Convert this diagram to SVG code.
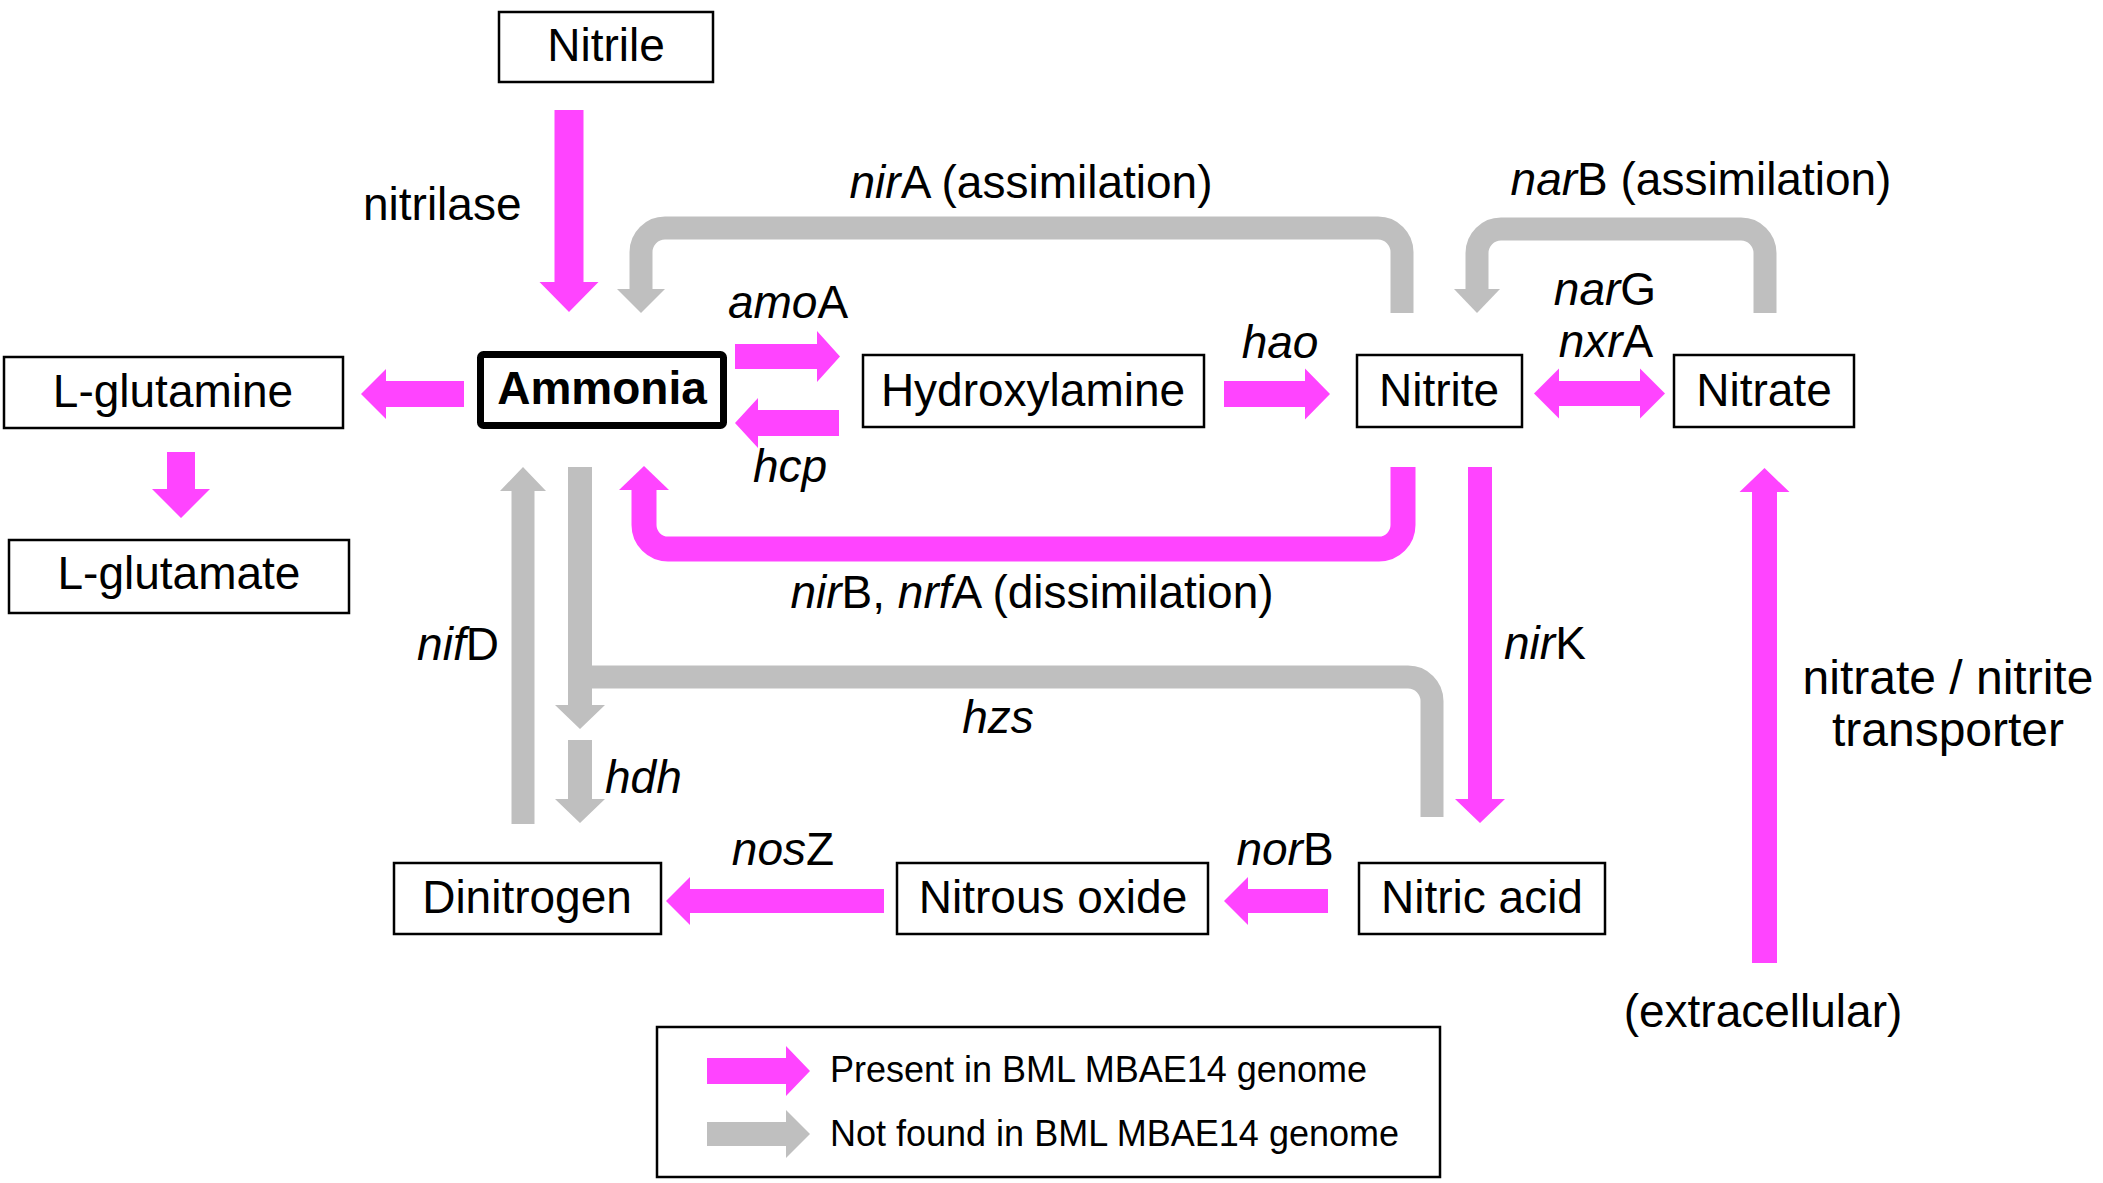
<svg xmlns="http://www.w3.org/2000/svg" width="2103" height="1183" viewBox="0 0 2103 1183">
<style>
text{font-family:"Liberation Sans",Arial,sans-serif;font-size:46px;fill:#000}
.box{fill:#fff;stroke:#000;stroke-width:2.5}
.bold{fill:#fff;stroke:#000;stroke-width:7}
.m{fill:#FF44FF}
.g{fill:#BFBFBF}
.ms{fill:none;stroke:#FF44FF;stroke-width:25}
.gs{fill:none;stroke:#BFBFBF;stroke-width:23}
.i{font-style:italic}
.c{text-anchor:middle}
.leg{font-size:36px}
.tr{font-size:48px}
</style>
<rect width="2103" height="1183" fill="#fff"/>

<g id="connectors">
  <!-- nitrilase -->
  <polygon class="m" points="554.5,110 583.5,110 583.5,282 598.5,282 569,312 539.5,282 554.5,282"/>
  <!-- Ammonia to L-glutamine -->
  <polygon class="m" points="464,381 386,381 386,369 361,394 386,419 386,407 464,407"/>
  <!-- L-glutamine to L-glutamate -->
  <polygon class="m" points="167,452 195,452 195,489 210,489 181,518 152,489 167,489"/>
  <!-- amoA -->
  <polygon class="m" points="735,344 817,344 817,331 840,356.5 817,382 817,369 735,369"/>
  <!-- hcp -->
  <polygon class="m" points="839,410 758,410 758,398 735,423 758,448 758,436 839,436"/>
  <!-- hao -->
  <polygon class="m" points="1224,381 1305,381 1305,368.5 1330,394 1305,419.5 1305,407 1224,407"/>
  <!-- narG / nxrA -->
  <polygon class="m" points="1534,393.5 1559,368.5 1559,381 1640,381 1640,368.5 1665,393.5 1640,418.5 1640,406 1559,406 1559,418.5"/>
  <!-- nirA assimilation -->
  <path class="gs" d="M1402,313 V252 A24,24 0 0 0 1378,228 H665 A24,24 0 0 0 641,252 V290"/>
  <polygon class="g" points="617,289 665,289 641,313"/>
  <!-- narB assimilation -->
  <path class="gs" d="M1765,313 V253 A24,24 0 0 0 1741,229 H1501 A24,24 0 0 0 1477,253 V290"/>
  <polygon class="g" points="1454,289 1500,289 1477,313"/>
  <!-- nirB, nrfA dissimilation -->
  <path class="ms" d="M1403,467 V525 A24,24 0 0 1 1379,549 H668 A24,24 0 0 1 644,525 V489"/>
  <polygon class="m" points="619,490 669,490 644,466"/>
  <!-- nirK -->
  <polygon class="m" points="1468,467 1492,467 1492,799 1505,799 1480,823 1455,799 1468,799"/>
  <!-- Ammonia down (hzs) -->
  <polygon class="g" points="568,467 592,467 592,705 605,705 580,729 555,705 568,705"/>
  <path class="gs" d="M1432,817 V701 A24,24 0 0 0 1408,677 H590"/>
  <!-- hdh -->
  <polygon class="g" points="568,740 592,740 592,799 605,799 580,823 555,799 568,799"/>
  <!-- nifD -->
  <polygon class="g" points="511.5,824 534.5,824 534.5,491 546,491 523,467 500,491 511.5,491"/>
  <!-- norB -->
  <polygon class="m" points="1328,889 1248,889 1248,877 1224,901 1248,925 1248,913 1328,913"/>
  <!-- nosZ -->
  <polygon class="m" points="884,889 690,889 690,877 666,901 690,925 690,913 884,913"/>
  <!-- nitrate / nitrite transporter -->
  <polygon class="m" points="1752,963 1777,963 1777,492 1789.5,492 1764.5,468 1739.5,492 1752,492"/>
</g>

<g id="labels">
  <text x="363" y="220">nitrilase</text>
  <text class="c" x="1031" y="198"><tspan class="i">nir</tspan>A (assimilation)</text>
  <text class="c" x="1701" y="195"><tspan class="i">nar</tspan>B (assimilation)</text>
  <text class="c" x="788" y="318"><tspan class="i">amo</tspan>A</text>
  <text class="c i" x="790" y="482">hcp</text>
  <text class="c i" x="1280" y="358">hao</text>
  <text class="c" x="1605" y="305"><tspan class="i">nar</tspan>G</text>
  <text class="c" x="1606" y="357"><tspan class="i">nxr</tspan>A</text>
  <text class="c" x="1032" y="608"><tspan class="i">nir</tspan>B, <tspan class="i">nrf</tspan>A (dissimilation)</text>
  <text x="1504" y="659"><tspan class="i">nir</tspan>K</text>
  <text class="c i" x="998" y="733">hzs</text>
  <text class="c" x="783" y="865"><tspan class="i">nos</tspan>Z</text>
  <text class="c" x="1285" y="865"><tspan class="i">nor</tspan>B</text>
  <text class="c" x="458" y="660"><tspan class="i">nif</tspan>D</text>
  <text class="i" x="605" y="793">hdh</text>
  <text class="c tr" x="1948" y="694">nitrate / nitrite</text>
  <text class="c tr" x="1948" y="746">transporter</text>
  <text class="c" x="1763" y="1027">(extracellular)</text>
</g>

<g id="node-nitrile"><rect class="box" x="499" y="12" width="214" height="70"/><text class="c" x="606" y="61">Nitrile</text></g>
<g id="node-lglutamine"><rect class="box" x="4" y="357" width="339" height="71"/><text class="c" x="173" y="407">L-glutamine</text></g>
<g id="node-ammonia"><rect class="bold" x="480.5" y="354.5" width="243" height="71" rx="3"/><text class="c" x="602" y="404" font-weight="bold">Ammonia</text></g>
<g id="node-hydroxylamine"><rect class="box" x="863" y="355" width="341" height="72"/><text class="c" x="1033" y="406">Hydroxylamine</text></g>
<g id="node-nitrite"><rect class="box" x="1357" y="355" width="165" height="72"/><text class="c" x="1439" y="406">Nitrite</text></g>
<g id="node-nitrate"><rect class="box" x="1674" y="355" width="180" height="72"/><text class="c" x="1764" y="406">Nitrate</text></g>
<g id="node-lglutamate"><rect class="box" x="9" y="540" width="340" height="73"/><text class="c" x="179" y="589">L-glutamate</text></g>
<g id="node-dinitrogen"><rect class="box" x="394" y="863" width="267" height="71"/><text class="c" x="527" y="913">Dinitrogen</text></g>
<g id="node-nitrousoxide"><rect class="box" x="897" y="863" width="311" height="71"/><text class="c" x="1053" y="913">Nitrous oxide</text></g>
<g id="node-nitricacid"><rect class="box" x="1359" y="863" width="246" height="71"/><text class="c" x="1482" y="913">Nitric acid</text></g>

<g id="legend">
  <rect class="box" x="657" y="1027" width="783" height="150"/>
  <polygon class="m" points="707,1058 786,1058 786,1046 810,1071 786,1096 786,1084 707,1084"/>
  <polygon class="g" points="707,1122 786,1122 786,1110 810,1134 786,1158 786,1146 707,1146"/>
  <text class="leg" x="830" y="1082">Present in BML MBAE14 genome</text>
  <text class="leg" x="830" y="1146">Not found in BML MBAE14 genome</text>
</g>
</svg>
